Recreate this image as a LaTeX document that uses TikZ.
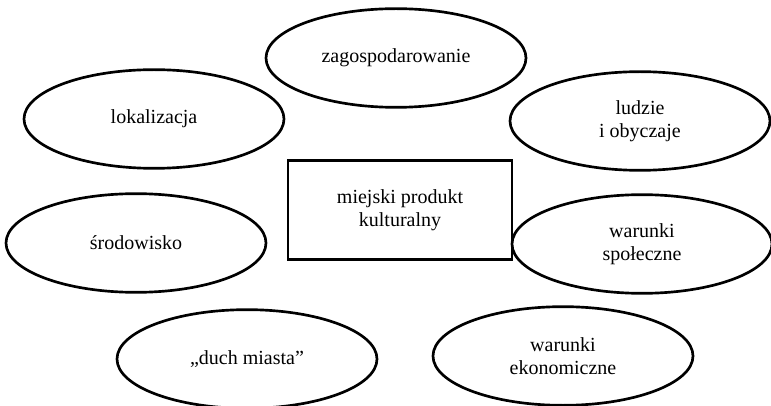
\documentclass[tikz,border=0pt]{standalone}
\usepackage{fontspec}
\setmainfont{Liberation Serif}
\usetikzlibrary{shapes.geometric}

\begin{document}
\begin{tikzpicture}[x=0.75pt, y=-0.75pt,
        every node/.style={font=\fontsize{15}{17.5}\selectfont, align=center},
        oval/.style={ellipse, draw, line width=2pt, minimum width=195pt, minimum height=74pt, inner sep=0pt},
        product/.style={rectangle, draw, line width=2pt, minimum width=168pt, minimum height=74pt}]
            % frame
            \useasboundingbox (0,0) rectangle (771,406);

            % centre
            \node[product] (produkt) at (400,210) {miejski produkt\\kulturalny};

            % left side
            \node[oval] (lokalizacja) at (154,119) {lokalizacja};
            \node[oval] (srodowisko) at (136,243) {środowisko};
            \node[oval] (duch) at (247,359) {„duch miasta”};

            % top
            \node[oval] (zagosp) at (396,58) {zagospodarowanie};

            % right side
            \node[oval] (ludzie) at (640,121) {ludzie\\i obyczaje};
            \node[oval] (spoleczne) at (642,244) {warunki\\społeczne};
            \node[oval] (ekonom) at (563,356) {warunki\\ekonomiczne};
        \end{tikzpicture}
\end{document}
